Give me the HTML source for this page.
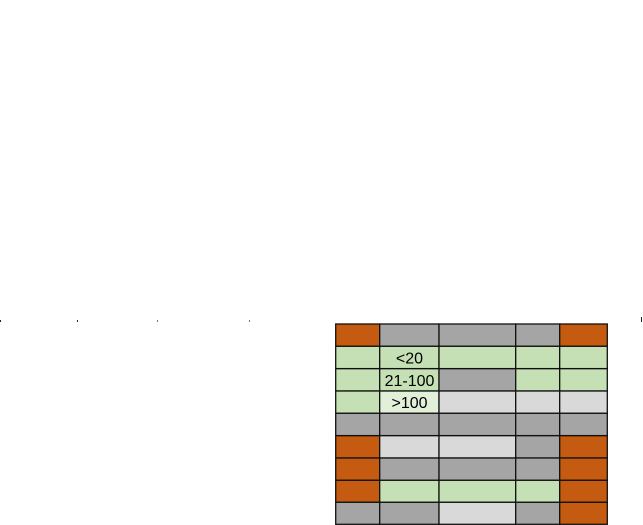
<!DOCTYPE html>
<html><head><style>
body{margin:0;width:643px;height:525px;background:#fff;overflow:hidden;position:relative;font-family:"Liberation Sans",Arial,sans-serif}
.m{position:absolute;top:320px;width:1px;height:2px;background:#222}
</style></head><body>
<div class="m" style="left:0"></div>
<div class="m" style="left:77px"></div>
<div class="m" style="left:157px;background:#777"></div>
<div class="m" style="left:249px;background:#777"></div>
<div class="m" style="left:641px;top:317px;height:5px"></div>
<svg width="643" height="525" style="position:absolute;left:0;top:0" xmlns="http://www.w3.org/2000/svg">
<g stroke="#111" stroke-width="1.3">
<rect x="335.7" y="324" width="44" height="22.3" fill="#C55A11"/>
<rect x="379.7" y="324" width="59.3" height="22.3" fill="#A5A5A5"/>
<rect x="439" y="324" width="76.7" height="22.3" fill="#A5A5A5"/>
<rect x="515.7" y="324" width="44" height="22.3" fill="#A5A5A5"/>
<rect x="559.7" y="324" width="47.6" height="22.3" fill="#C55A11"/>
<rect x="335.7" y="346.3" width="44" height="22.3" fill="#C5E0B4"/>
<rect x="379.7" y="346.3" width="59.3" height="22.3" fill="#C5E0B4"/>
<rect x="439" y="346.3" width="76.7" height="22.3" fill="#C5E0B4"/>
<rect x="515.7" y="346.3" width="44" height="22.3" fill="#C5E0B4"/>
<rect x="559.7" y="346.3" width="47.6" height="22.3" fill="#C5E0B4"/>
<rect x="335.7" y="368.7" width="44" height="22.3" fill="#C5E0B4"/>
<rect x="379.7" y="368.7" width="59.3" height="22.3" fill="#C5E0B4"/>
<rect x="439" y="368.7" width="76.7" height="22.3" fill="#A5A5A5"/>
<rect x="515.7" y="368.7" width="44" height="22.3" fill="#C5E0B4"/>
<rect x="559.7" y="368.7" width="47.6" height="22.3" fill="#C5E0B4"/>
<rect x="335.7" y="391" width="44" height="22.3" fill="#C5E0B4"/>
<rect x="379.7" y="391" width="59.3" height="22.3" fill="#E2F0D9"/>
<rect x="439" y="391" width="76.7" height="22.3" fill="#D9D9D9"/>
<rect x="515.7" y="391" width="44" height="22.3" fill="#D9D9D9"/>
<rect x="559.7" y="391" width="47.6" height="22.3" fill="#D9D9D9"/>
<rect x="335.7" y="413.3" width="44" height="22.3" fill="#A5A5A5"/>
<rect x="379.7" y="413.3" width="59.3" height="22.3" fill="#A5A5A5"/>
<rect x="439" y="413.3" width="76.7" height="22.3" fill="#A5A5A5"/>
<rect x="515.7" y="413.3" width="44" height="22.3" fill="#A5A5A5"/>
<rect x="559.7" y="413.3" width="47.6" height="22.3" fill="#A5A5A5"/>
<rect x="335.7" y="435.7" width="44" height="22.3" fill="#C55A11"/>
<rect x="379.7" y="435.7" width="59.3" height="22.3" fill="#D9D9D9"/>
<rect x="439" y="435.7" width="76.7" height="22.3" fill="#D9D9D9"/>
<rect x="515.7" y="435.7" width="44" height="22.3" fill="#A5A5A5"/>
<rect x="559.7" y="435.7" width="47.6" height="22.3" fill="#C55A11"/>
<rect x="335.7" y="458" width="44" height="22.3" fill="#C55A11"/>
<rect x="379.7" y="458" width="59.3" height="22.3" fill="#A5A5A5"/>
<rect x="439" y="458" width="76.7" height="22.3" fill="#A5A5A5"/>
<rect x="515.7" y="458" width="44" height="22.3" fill="#A5A5A5"/>
<rect x="559.7" y="458" width="47.6" height="22.3" fill="#C55A11"/>
<rect x="335.7" y="480.3" width="44" height="22" fill="#C55A11"/>
<rect x="379.7" y="480.3" width="59.3" height="22" fill="#C5E0B4"/>
<rect x="439" y="480.3" width="76.7" height="22" fill="#C5E0B4"/>
<rect x="515.7" y="480.3" width="44" height="22" fill="#C5E0B4"/>
<rect x="559.7" y="480.3" width="47.6" height="22" fill="#C55A11"/>
<rect x="335.7" y="502.3" width="44" height="22" fill="#A5A5A5"/>
<rect x="379.7" y="502.3" width="59.3" height="22" fill="#A5A5A5"/>
<rect x="439" y="502.3" width="76.7" height="22" fill="#D9D9D9"/>
<rect x="515.7" y="502.3" width="44" height="22" fill="#A5A5A5"/>
<rect x="559.7" y="502.3" width="47.6" height="22" fill="#C55A11"/>
</g>
<g font-size="16" font-family="Liberation Sans, Arial, sans-serif" fill="#000" text-anchor="middle">
<text x="409.5" y="363.5">&lt;20</text>
<text x="409.5" y="386">21-100</text>
<text x="409.5" y="408">&gt;100</text>
</g>
</svg>
</body></html>
